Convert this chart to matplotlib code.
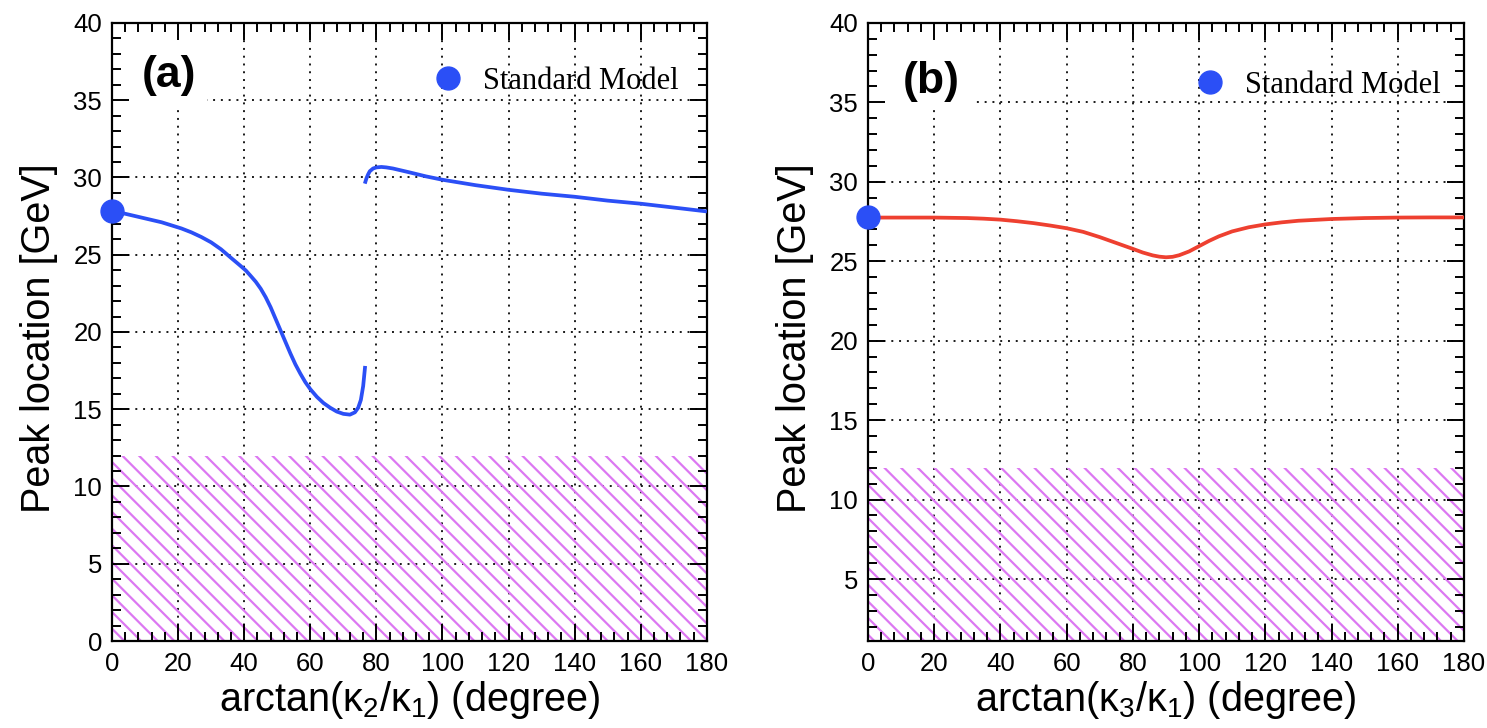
import matplotlib
matplotlib.use("Agg")
import matplotlib.pyplot as plt
from matplotlib.patches import Rectangle
from matplotlib.ticker import MultipleLocator
import numpy as np

plt.rcParams['font.family'] = ['Liberation Sans', 'DejaVu Sans']
plt.rcParams['mathtext.fontset'] = 'custom'
plt.rcParams['mathtext.rm'] = 'Liberation Sans'
plt.rcParams['mathtext.it'] = 'Liberation Sans:italic'
plt.rcParams['mathtext.default'] = 'regular'
plt.rcParams['hatch.linewidth'] = 1.6

# panel (a): peak location vs arctan(k2/k1), two branches
a_x1 = [0, 3, 6, 9, 12, 15, 18, 21, 24, 27, 30, 33, 36, 38.5, 40.5, 42, 43.5, 45, 46.5, 48, 49.5,
        51, 52.5, 54, 55.5, 57, 58.5, 60, 62, 64, 66, 68, 70, 72, 73.5, 74.5, 75.3, 76, 76.6]
a_y1 = [27.8, 27.7, 27.55, 27.4, 27.25, 27.1, 26.9, 26.7, 26.45, 26.15, 25.8, 25.35, 24.8, 24.35, 23.98, 23.62, 23.25, 22.8, 22.25, 21.6, 20.85,
        20.1, 19.35, 18.6, 17.9, 17.3, 16.75, 16.3, 15.8, 15.4, 15.1, 14.85, 14.7, 14.65, 14.8, 15.1, 15.6, 16.5, 17.8]
a_x2 = [76.5, 77, 77.5, 78, 79, 80, 81.5, 83, 85, 90, 95, 100, 110, 120, 130, 140, 150, 160, 170, 180]
a_y2 = [29.6, 29.95, 30.2, 30.4, 30.58, 30.65, 30.68, 30.65, 30.58, 30.33, 30.07, 29.85, 29.5, 29.2, 28.95, 28.75, 28.5, 28.3, 28.05, 27.8]

# panel (b): peak location vs arctan(k3/k1)
b_x = [0, 10, 20, 30, 35, 40, 45, 50, 55, 60, 65, 70, 75, 80, 83, 86, 88, 90, 92, 94, 97,
       100, 103, 106, 110, 115, 120, 125, 130, 140, 150, 160, 170, 180]
b_y = [27.75, 27.75, 27.75, 27.72, 27.68, 27.62, 27.52, 27.4, 27.25, 27.08, 26.85, 26.52, 26.15, 25.78, 25.55, 25.37, 25.29, 25.25, 25.28, 25.38, 25.62,
       25.95, 26.28, 26.57, 26.88, 27.14, 27.32, 27.45, 27.55, 27.66, 27.72, 27.75, 27.76, 27.76]

# standard model point
sm_x = [0]
sm_y = [27.8]

excluded_top = 12

blue = '#2b4ff6'
red = '#ee4030'
hatch_col = '#dc78f2'

fig = plt.figure(figsize=(14.87, 7.28), dpi=100)
ax_a = fig.add_axes([0.0753, 0.1195, 0.4001, 0.849])
ax_b = fig.add_axes([0.5837, 0.1195, 0.4008, 0.849])


def style_axes(ax, ylo, tag, tag_pos, box_w, box_h, leg_x, leg_y, xlabel):
    ax.set_xlim(0, 180)
    ax.set_ylim(ylo, 40)
    ax.set_xticks(np.arange(0, 181, 20))
    ax.set_yticks(np.arange(0 if ylo <= 0 else 5, 41, 5))
    ax.xaxis.set_minor_locator(MultipleLocator(4))
    ax.yaxis.set_minor_locator(MultipleLocator(1))
    ax.tick_params(which='both', direction='in', top=True, right=True, width=1.4, labelsize=18.5)
    ax.tick_params(which='major', length=12)
    ax.tick_params(which='minor', length=6.5)
    ax.tick_params(axis='x', pad=8)
    ax.tick_params(axis='y', pad=7)
    for s in ax.spines.values():
        s.set_linewidth(1.6)

    # dotted grid at the major tick positions
    for v in ax.get_xticks()[1:-1]:
        ax.axvline(v, color='#1a1a1a', ls=(0, (1, 3)), lw=1.4, zorder=0.6)
    for v in ax.get_yticks():
        if ylo < v < 40:
            ax.axhline(v, color='#1a1a1a', ls=(0, (1, 3)), lw=1.4, zorder=0.6)

    # excluded region
    ax.fill_between([0, 180], ylo, excluded_top, facecolor='none', edgecolor=hatch_col,
                    hatch='\\\\', linewidth=0, zorder=0.8)

    # white box behind the panel tag
    ax.add_patch(Rectangle((0, 1 - box_h), box_w, box_h, transform=ax.transAxes,
                           facecolor='white', edgecolor='none', zorder=1))
    ax.text(tag_pos[0], tag_pos[1], tag, transform=ax.transAxes, fontsize=32,
            fontweight='bold', ha='center', va='center', zorder=2)

    sm, = ax.plot(sm_x, sm_y, 'o', color=blue, ms=16.5, clip_on=False, zorder=6,
                  label='Standard Model')
    ax.legend(handles=[sm], loc='center left', bbox_to_anchor=(leg_x, leg_y),
              frameon=False, borderpad=0, borderaxespad=0, handlelength=0.8,
              handletextpad=0.745, numpoints=1,
              prop={'family': 'Liberation Serif', 'size': 22})

    ax.set_ylabel('Peak location [GeV]', fontsize=28.5)
    ax.yaxis.set_label_coords(-0.09, 0.49)
    ax.set_xlabel(xlabel, fontsize=28.5)
    ax.xaxis.set_label_coords(0.5, -0.062)


ax_a.plot(a_x1, a_y1, color=blue, lw=2.7, zorder=5, solid_capstyle='butt')
ax_a.plot(a_x2, a_y2, color=blue, lw=2.7, zorder=5, solid_capstyle='butt')
style_axes(ax_a, 0, '(a)', (0.0958, 0.915), 0.16, 0.133, 0.544, 0.906,
           r'arctan($\kappa_{2}/\kappa_{1}$) (degree)')

ax_b.plot(b_x, b_y, color=red, lw=2.7, zorder=5)
style_axes(ax_b, 1.1, '(b)', (0.107, 0.905), 0.178, 0.141, 0.553, 0.899,
           r'arctan($\kappa_{3}/\kappa_{1}$) (degree)')

fig.savefig('out.png', dpi=100)
